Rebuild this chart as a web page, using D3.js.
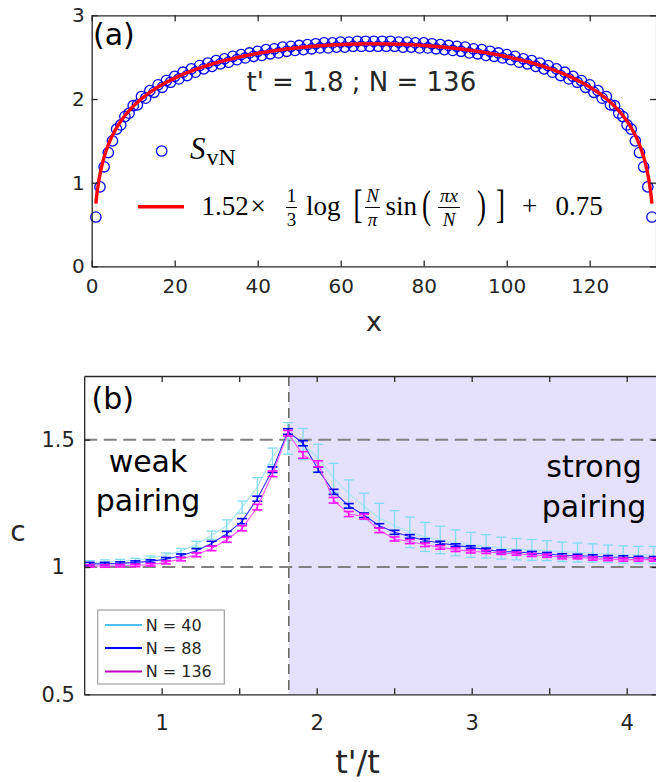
<!DOCTYPE html>
<html><head><meta charset="utf-8">
<script src="https://cdn.jsdelivr.net/npm/d3@7"></script>
<style>body{margin:0;background:#fff;} svg{display:block;}</style>
</head><body>
<script>
// ---------------- Panel (a) data ----------------
const siteX = d3.range(1, 136);                 // x = 1 .. 135
const svnValues = [
 0.59,0.95,1.19,1.36,1.50,1.64,1.69,1.79,1.83,1.92,
 1.93,2.03,2.01,2.10,2.08,2.17,2.14,2.22,2.20,2.27,
 2.24,2.32,2.28,2.36,2.32,2.40,2.36,2.43,2.39,2.46,
 2.42,2.48,2.44,2.51,2.47,2.53,2.49,2.55,2.51,2.57,
 2.52,2.59,2.54,2.60,2.55,2.62,2.57,2.63,2.58,2.64,
 2.59,2.65,2.60,2.66,2.61,2.67,2.61,2.67,2.62,2.68,
 2.62,2.68,2.63,2.69,2.63,2.69,2.63,2.69,2.63,2.69,
 2.63,2.69,2.63,2.68,2.62,2.68,2.62,2.67,2.61,2.67,
 2.61,2.66,2.60,2.65,2.59,2.64,2.58,2.63,2.57,2.62,
 2.55,2.60,2.54,2.59,2.52,2.57,2.51,2.55,2.49,2.53,
 2.47,2.51,2.44,2.48,2.42,2.46,2.39,2.43,2.36,2.40,
 2.32,2.36,2.28,2.32,2.24,2.27,2.20,2.22,2.14,2.17,
 2.08,2.10,2.01,2.03,1.93,1.92,1.83,1.79,1.69,1.64,
 1.50,1.36,1.19,0.95,0.59];
const fitScale = 1.52, fitOffset = 0.75, chainN = 136;
const xTicksA = [0,20,40,60,80,100,120];
const yTicksA = [0,1,2,3];

// ---------------- Panel (b) data ----------------
const ratioX = [0.535,0.633,0.732,0.830,0.928,1.027,1.125,1.224,1.322,1.420,
 1.519,1.617,1.715,1.814,1.912,2.010,2.109,2.207,2.306,2.404,
 2.502,2.601,2.699,2.797,2.896,2.994,3.093,3.191,3.289,3.388,
 3.486,3.584,3.683,3.781,3.880,3.978,4.076,4.175];
const cN40 = [1.017,1.020,1.022,1.026,1.035,1.046,1.063,1.089,1.125,1.162,
 1.235,1.314,1.434,1.505,1.483,1.427,1.350,1.288,1.238,1.192,
 1.162,1.136,1.118,1.106,1.095,1.087,1.081,1.074,1.070,1.067,
 1.064,1.060,1.057,1.055,1.052,1.049,1.048,1.047];
const eN40 = [0.008,0.008,0.008,0.008,0.008,0.009,0.010,0.012,0.016,0.023,
 0.024,0.037,0.033,0.062,0.061,0.055,0.057,0.054,0.052,0.058,
 0.059,0.060,0.057,0.054,0.051,0.049,0.046,0.043,0.042,0.041,
 0.039,0.038,0.037,0.036,0.034,0.034,0.033,0.034];
const cN88 = [1.012,1.012,1.014,1.018,1.022,1.031,1.044,1.064,1.092,1.130,
 1.180,1.268,1.382,1.532,1.486,1.382,1.295,1.240,1.203,1.162,
 1.136,1.120,1.104,1.094,1.085,1.077,1.068,1.061,1.059,1.055,
 1.051,1.046,1.044,1.042,1.039,1.038,1.036,1.035];
const eN88 = [0.006,0.006,0.006,0.006,0.006,0.006,0.007,0.008,0.009,0.010,
 0.010,0.010,0.011,0.011,0.010,0.010,0.010,0.009,0.009,0.008,
 0.008,0.007,0.007,0.007,0.006,0.006,0.006,0.006,0.006,0.006,
 0.006,0.006,0.006,0.006,0.006,0.006,0.006,0.006];
const cN136 = [1.004,1.004,1.005,1.006,1.009,1.018,1.031,1.048,1.073,1.107,
 1.152,1.235,1.366,1.525,1.440,1.405,1.262,1.208,1.198,1.144,
 1.110,1.100,1.087,1.077,1.068,1.061,1.059,1.055,1.052,1.047,
 1.044,1.038,1.038,1.033,1.031,1.029,1.029,1.029];
const eN136 = [0.005,0.005,0.005,0.005,0.005,0.006,0.007,0.008,0.009,0.010,
 0.010,0.011,0.011,0.011,0.013,0.012,0.011,0.010,0.010,0.009,
 0.008,0.008,0.007,0.007,0.007,0.006,0.006,0.006,0.006,0.006,
 0.006,0.006,0.006,0.006,0.006,0.006,0.006,0.006];
const seriesNames = ["N = 40","N = 88","N = 136"];
const criticalRatio = 1.82;
const xTicksB = [1,1.5,2,2.5,3,3.5,4];
const yTicksB = [0.5,1,1.5];
const refLevels = [1,1.5];

// ---------------- Setup ----------------
const INK = "#262626";
const plain = d => String(d);
const svg = d3.select("body").append("svg").attr("width",656).attr("height",782)
  .style("font-family","'DejaVu Sans'");

function styleAxis(g, fs){
  g.select(".domain").attr("stroke",INK).attr("stroke-width",1.3);
  g.selectAll(".tick line").attr("stroke",INK).attr("stroke-width",1.3);
  g.selectAll(".tick text").attr("fill",INK).style("font-family","'DejaVu Sans'").style("font-size",fs+"px");
}

// ================= Panel (a) =================
const A = {l:91.7, r:656.1, t:15.3, b:266.4};
const xA = d3.scaleLinear().domain([0,136]).range([A.l,A.r]);
const yA = d3.scaleLinear().domain([0,3]).range([A.b,A.t]);
const gA = svg.append("g");

gA.append("g").selectAll("circle").data(svnValues).enter().append("circle")
  .attr("cx",(d,i)=>xA(siteX[i])).attr("cy",d=>yA(d)).attr("r",5.2)
  .attr("fill","none").attr("stroke","#0000FF").attr("stroke-width",1.3);

const fitX = d3.range(1, 135.001, 0.25);
const fitLine = d3.line().x(d=>xA(d))
  .y(d=>yA(fitScale*(1/3)*Math.log((chainN/Math.PI)*Math.sin(Math.PI*d/chainN))+fitOffset));
gA.append("path").datum(fitX).attr("d",fitLine).attr("fill","none")
  .attr("stroke","#FF0000").attr("stroke-width",3.4);

styleAxis(gA.append("g").attr("transform",`translate(0,${A.b})`)
  .call(d3.axisBottom(xA).tickValues(xTicksA).tickFormat(plain).tickSizeInner(-6).tickSizeOuter(0).tickPadding(12)),20);
styleAxis(gA.append("g").attr("transform",`translate(0,${A.t})`)
  .call(d3.axisTop(xA).tickValues(xTicksA).tickSizeInner(-6).tickSizeOuter(0).tickFormat("")),20);
styleAxis(gA.append("g").attr("transform",`translate(${A.l},0)`)
  .call(d3.axisLeft(yA).tickValues(yTicksA).tickFormat(plain).tickSizeInner(-6).tickSizeOuter(0).tickPadding(7)),20);
styleAxis(gA.append("g").attr("transform",`translate(${A.r},0)`)
  .call(d3.axisRight(yA).tickValues(yTicksA).tickSizeInner(-6).tickSizeOuter(0).tickFormat("")),20);

gA.append("text").attr("x",93).attr("y",44.5).attr("fill","#000").style("font-size","30px").text("(a)");
gA.append("text").attr("x",246.5).attr("y",90.7).attr("fill",INK).style("font-size","26px").text("t' = 1.8 ; N = 136");
gA.append("text").attr("x",374).attr("y",331).attr("text-anchor","middle").attr("fill",INK).style("font-size","27px").text("x");

// legend (a)
const serif = "'Liberation Serif'";
gA.append("circle").attr("cx",161.7).attr("cy",151).attr("r",5.2).attr("fill","none").attr("stroke","#0000FF").attr("stroke-width",1.3);
const sv = gA.append("text").attr("x",190).attr("y",159).style("font-family",serif).attr("fill","#000");
sv.append("tspan").style("font-size","31px").style("font-style","italic").text("S");
sv.append("tspan").attr("dy",6).attr("dx",1).style("font-size","24px").text("vN");

gA.append("line").attr("x1",138).attr("x2",184).attr("y1",206.7).attr("y2",206.7).attr("stroke","#FF0000").attr("stroke-width",3.4);
const F = gA.append("g").style("font-family",serif).attr("fill","#000");
const base = 215;
function ft(x, y, s, size, opts={}){
  const t = F.append("text").attr("x",x).attr("y",y).style("font-size",size+"px").text(s);
  if(opts.anchor) t.attr("text-anchor",opts.anchor);
  if(opts.italic) t.style("font-style","italic");
  return t;
}
function frac(cx, num, den, w, numItalic, denItalic){
  ft(cx, 201.5, num, 19, {anchor:"middle", italic:numItalic});
  F.append("line").attr("x1",cx-w/2).attr("x2",cx+w/2).attr("y1",207.5).attr("y2",207.5).attr("stroke","#000").attr("stroke-width",1);
  ft(cx, 225.5, den, 19, {anchor:"middle", italic:denItalic});
}
function bigDelim(x, s){
  F.append("text").attr("transform",`translate(${x},${base+3}) scale(1,1.5)`)
    .style("font-size","27px").text(s);
}
ft(201.5, base, "1.52", 27);
ft(258, base, "\u00D7", 27, {anchor:"middle"});
frac(291.5, "1", "3", 11, false, false);
ft(306, base, "log", 27);
bigDelim(353.5, "[");
frac(372.5, "N", "\u03C0", 15, true, true);
ft(385.5, base, "sin", 27);
bigDelim(422, "(");
frac(449, "\u03C0x", "N", 22, true, true);
bigDelim(477, ")");
bigDelim(496, "]");
ft(529.5, base, "+", 27, {anchor:"middle"});
ft(555.5, base, "0.75", 27);

// ================= Panel (b) =================
const B = {l:84.2, r:657.7, t:376, b:694.3};
const xB = d3.scaleLinear().domain([0.5,4.2]).range([B.l,B.r]);
const yB = d3.scaleLinear().domain([0.5,1.75]).range([B.b,B.t]);
const gB = svg.append("g");

gB.append("rect").attr("x",xB(criticalRatio)).attr("y",B.t)
  .attr("width",xB(4.2)-xB(criticalRatio)).attr("height",B.b-B.t).attr("fill","#E5E0FC");

gB.append("g").selectAll("line").data(refLevels).enter().append("line")
  .attr("x1",B.l).attr("x2",B.r).attr("y1",d=>yB(d)).attr("y2",d=>yB(d))
  .attr("stroke","#808080").attr("stroke-width",2).attr("stroke-dasharray","13,6.5");
gB.append("line").attr("x1",xB(criticalRatio)).attr("x2",xB(criticalRatio)).attr("y1",B.t).attr("y2",B.b)
  .attr("stroke","#4d4d4d").attr("stroke-width",1.3).attr("stroke-dasharray","10,6");

function drawSeries(vals, errs, lineColor, barColor, lw, bw){
  const g = gB.append("g");
  g.append("path").datum(vals)
    .attr("d", d3.line().x((d,i)=>xB(ratioX[i])).y(d=>yB(d)))
    .attr("fill","none").attr("stroke",lineColor).attr("stroke-width",lw);
  const bars = g.selectAll("g.eb").data(vals).enter().append("g");
  bars.append("line").attr("x1",(d,i)=>xB(ratioX[i])).attr("x2",(d,i)=>xB(ratioX[i]))
    .attr("y1",(d,i)=>yB(d-errs[i])).attr("y2",(d,i)=>yB(d+errs[i]))
    .attr("stroke",barColor).attr("stroke-width",bw);
  [-1,1].forEach(s=>{
    bars.append("line").attr("x1",(d,i)=>xB(ratioX[i])-5).attr("x2",(d,i)=>xB(ratioX[i])+5)
      .attr("y1",(d,i)=>yB(d+s*errs[i])).attr("y2",(d,i)=>yB(d+s*errs[i]))
      .attr("stroke",barColor).attr("stroke-width",bw);
  });
}
drawSeries(cN40, eN40, "#A8E6F6", "#80DCF2", 1.2, 1.3);
drawSeries(cN88, eN88, "#3030FF", "#0000FF", 1.1, 1.6);
drawSeries(cN136, eN136, "#FF50FF", "#FF10FF", 1.1, 1.6);

styleAxis(gB.append("g").attr("transform",`translate(0,${B.b})`)
  .call(d3.axisBottom(xB).tickValues(xTicksB).tickSizeInner(-6).tickSizeOuter(0).tickPadding(21)
    .tickFormat(d=>Number.isInteger(d)?String(d):"")),21);
styleAxis(gB.append("g").attr("transform",`translate(0,${B.t})`)
  .call(d3.axisTop(xB).tickValues(xTicksB).tickSizeInner(-6).tickSizeOuter(0).tickFormat("")),21);
const leftB = gB.append("g").attr("transform",`translate(${B.l},0)`)
  .call(d3.axisLeft(yB).tickValues(yTicksB).tickFormat(plain).tickSizeInner(-6).tickSizeOuter(0).tickPadding(26));
styleAxis(leftB,21);
leftB.selectAll(".tick text").attr("text-anchor","middle");
styleAxis(gB.append("g").attr("transform",`translate(${B.r},0)`)
  .call(d3.axisRight(yB).tickValues(yTicksB).tickSizeInner(-6).tickSizeOuter(0).tickFormat("")),21);

gB.append("text").attr("x",91.5).attr("y",408.5).attr("fill","#000").style("font-size","30px").text("(b)");
[["weak",471.7],["pairing",511]].forEach(([s,y])=>
  gB.append("text").attr("x",148).attr("y",y).attr("text-anchor","middle").attr("fill","#000").style("font-size","30px").text(s));
[["strong",476.7],["pairing",516.7]].forEach(([s,y])=>
  gB.append("text").attr("x",594).attr("y",y).attr("text-anchor","middle").attr("fill","#000").style("font-size","30px").text(s));
gB.append("text").attr("x",18).attr("y",541).attr("text-anchor","middle").attr("fill",INK).style("font-size","28px").text("c");
gB.append("text").attr("x",357.5).attr("y",773).attr("text-anchor","middle").attr("fill",INK).style("font-size","32px").text("t'/t");

const LG = gB.append("g");
LG.append("rect").attr("x",97.7).attr("y",610).attr("width",126.6).attr("height",74)
  .attr("fill","#fff").attr("stroke","#A0A0A0").attr("stroke-width",1.2);
const legColors = ["#4DBEEE","#0000FF","#BF00BF"];
const legY = [625,648,671.5];
seriesNames.forEach((n,i)=>{
  LG.append("line").attr("x1",105).attr("x2",142).attr("y1",legY[i]).attr("y2",legY[i])
    .attr("stroke",legColors[i]).attr("stroke-width",2);
  LG.append("text").attr("x",145.7).attr("y",legY[i]+5.8).attr("fill",INK).style("font-size","16px").text(n);
});
</script>
</body></html>
